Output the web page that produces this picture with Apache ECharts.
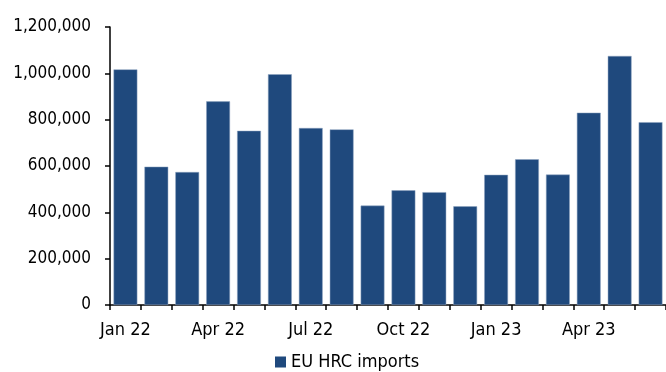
<!DOCTYPE html>
<html>
<head>
<meta charset="utf-8">
<script src="https://cdn.jsdelivr.net/npm/echarts@6/dist/echarts.min.js"></script>
<style>
  html, body { margin: 0; padding: 0; background: #fff; }
  #chart { width: 666px; height: 372px; }
</style>
</head>
<body>
<div id="chart"></div>
<script>
  // months Jan 22 .. Jun 23
  var months = ['Jan 22', 'Feb 22', 'Mar 22', 'Apr 22', 'May 22', 'Jun 22',
                'Jul 22', 'Aug 22', 'Sep 22', 'Oct 22', 'Nov 22', 'Dec 22',
                'Jan 23', 'Feb 23', 'Mar 23', 'Apr 23', 'May 23', 'Jun 23'];
  var hrcImports = [1017000, 597000, 574000, 879000, 752000, 996000,
                    764000, 758000, 429000, 495000, 487000, 426000,
                    562000, 629000, 563000, 830000, 1075000, 789000];
  var yTicks = [0, 200000, 400000, 600000, 800000, 1000000, 1200000];

  var font = '"DejaVu Sans Condensed", "DejaVu Sans", sans-serif';
  var dom = document.getElementById('chart');
  var myChart = echarts.init(dom);

  var option = {
      animation: false,
      textStyle: { fontFamily: font },
      legend: {
          data: ['EU HRC imports'],
          top: 348,
          left: 270,
          icon: 'rect',
          itemWidth: 11,
          itemHeight: 11,
          itemGap: 4,
          itemStyle: { borderWidth: 0 },
          textStyle: { fontFamily: font, fontSize: 18, color: '#000' }
      },
      grid: {
          left: 110,
          top: 27,
          bottom: 67,
          width: 559
      },
      xAxis: {
          type: 'category',
          data: months,
          boundaryGap: true,
          axisLine: { lineStyle: { color: '#000', width: 1.5 } },
          axisTick: { show: true, interval: 0, length: 5, lineStyle: { color: '#000', width: 1.5 } },
          axisLabel: {
              interval: 2,
              margin: 16,
              color: '#000',
              fontSize: 18,
              fontFamily: font
          }
      },
      yAxis: {
          type: 'value',
          min: yTicks[0],
          max: yTicks[yTicks.length - 1],
          interval: 200000,
          splitLine: { show: false },
          axisLine: { show: true, lineStyle: { color: '#000', width: 1.5 } },
          axisTick: { show: true, length: 5, lineStyle: { color: '#000', width: 1.5 } },
          axisLabel: {
              margin: 19,
              color: '#000',
              fontSize: 17,
              fontFamily: font,
              formatter: function (v) { return v.toLocaleString('en-US'); }
          }
      },
      series: [
          {
              name: 'EU HRC imports',
              type: 'bar',
              barCategoryGap: '23%',
              itemStyle: {
                  color: '#1F497D',
                  borderColor: '#8fa4c0',
                  borderWidth: 0.5
              },
              data: hrcImports
          }
      ]
  };
  myChart.setOption(option, true);
</script>
</body>
</html>
